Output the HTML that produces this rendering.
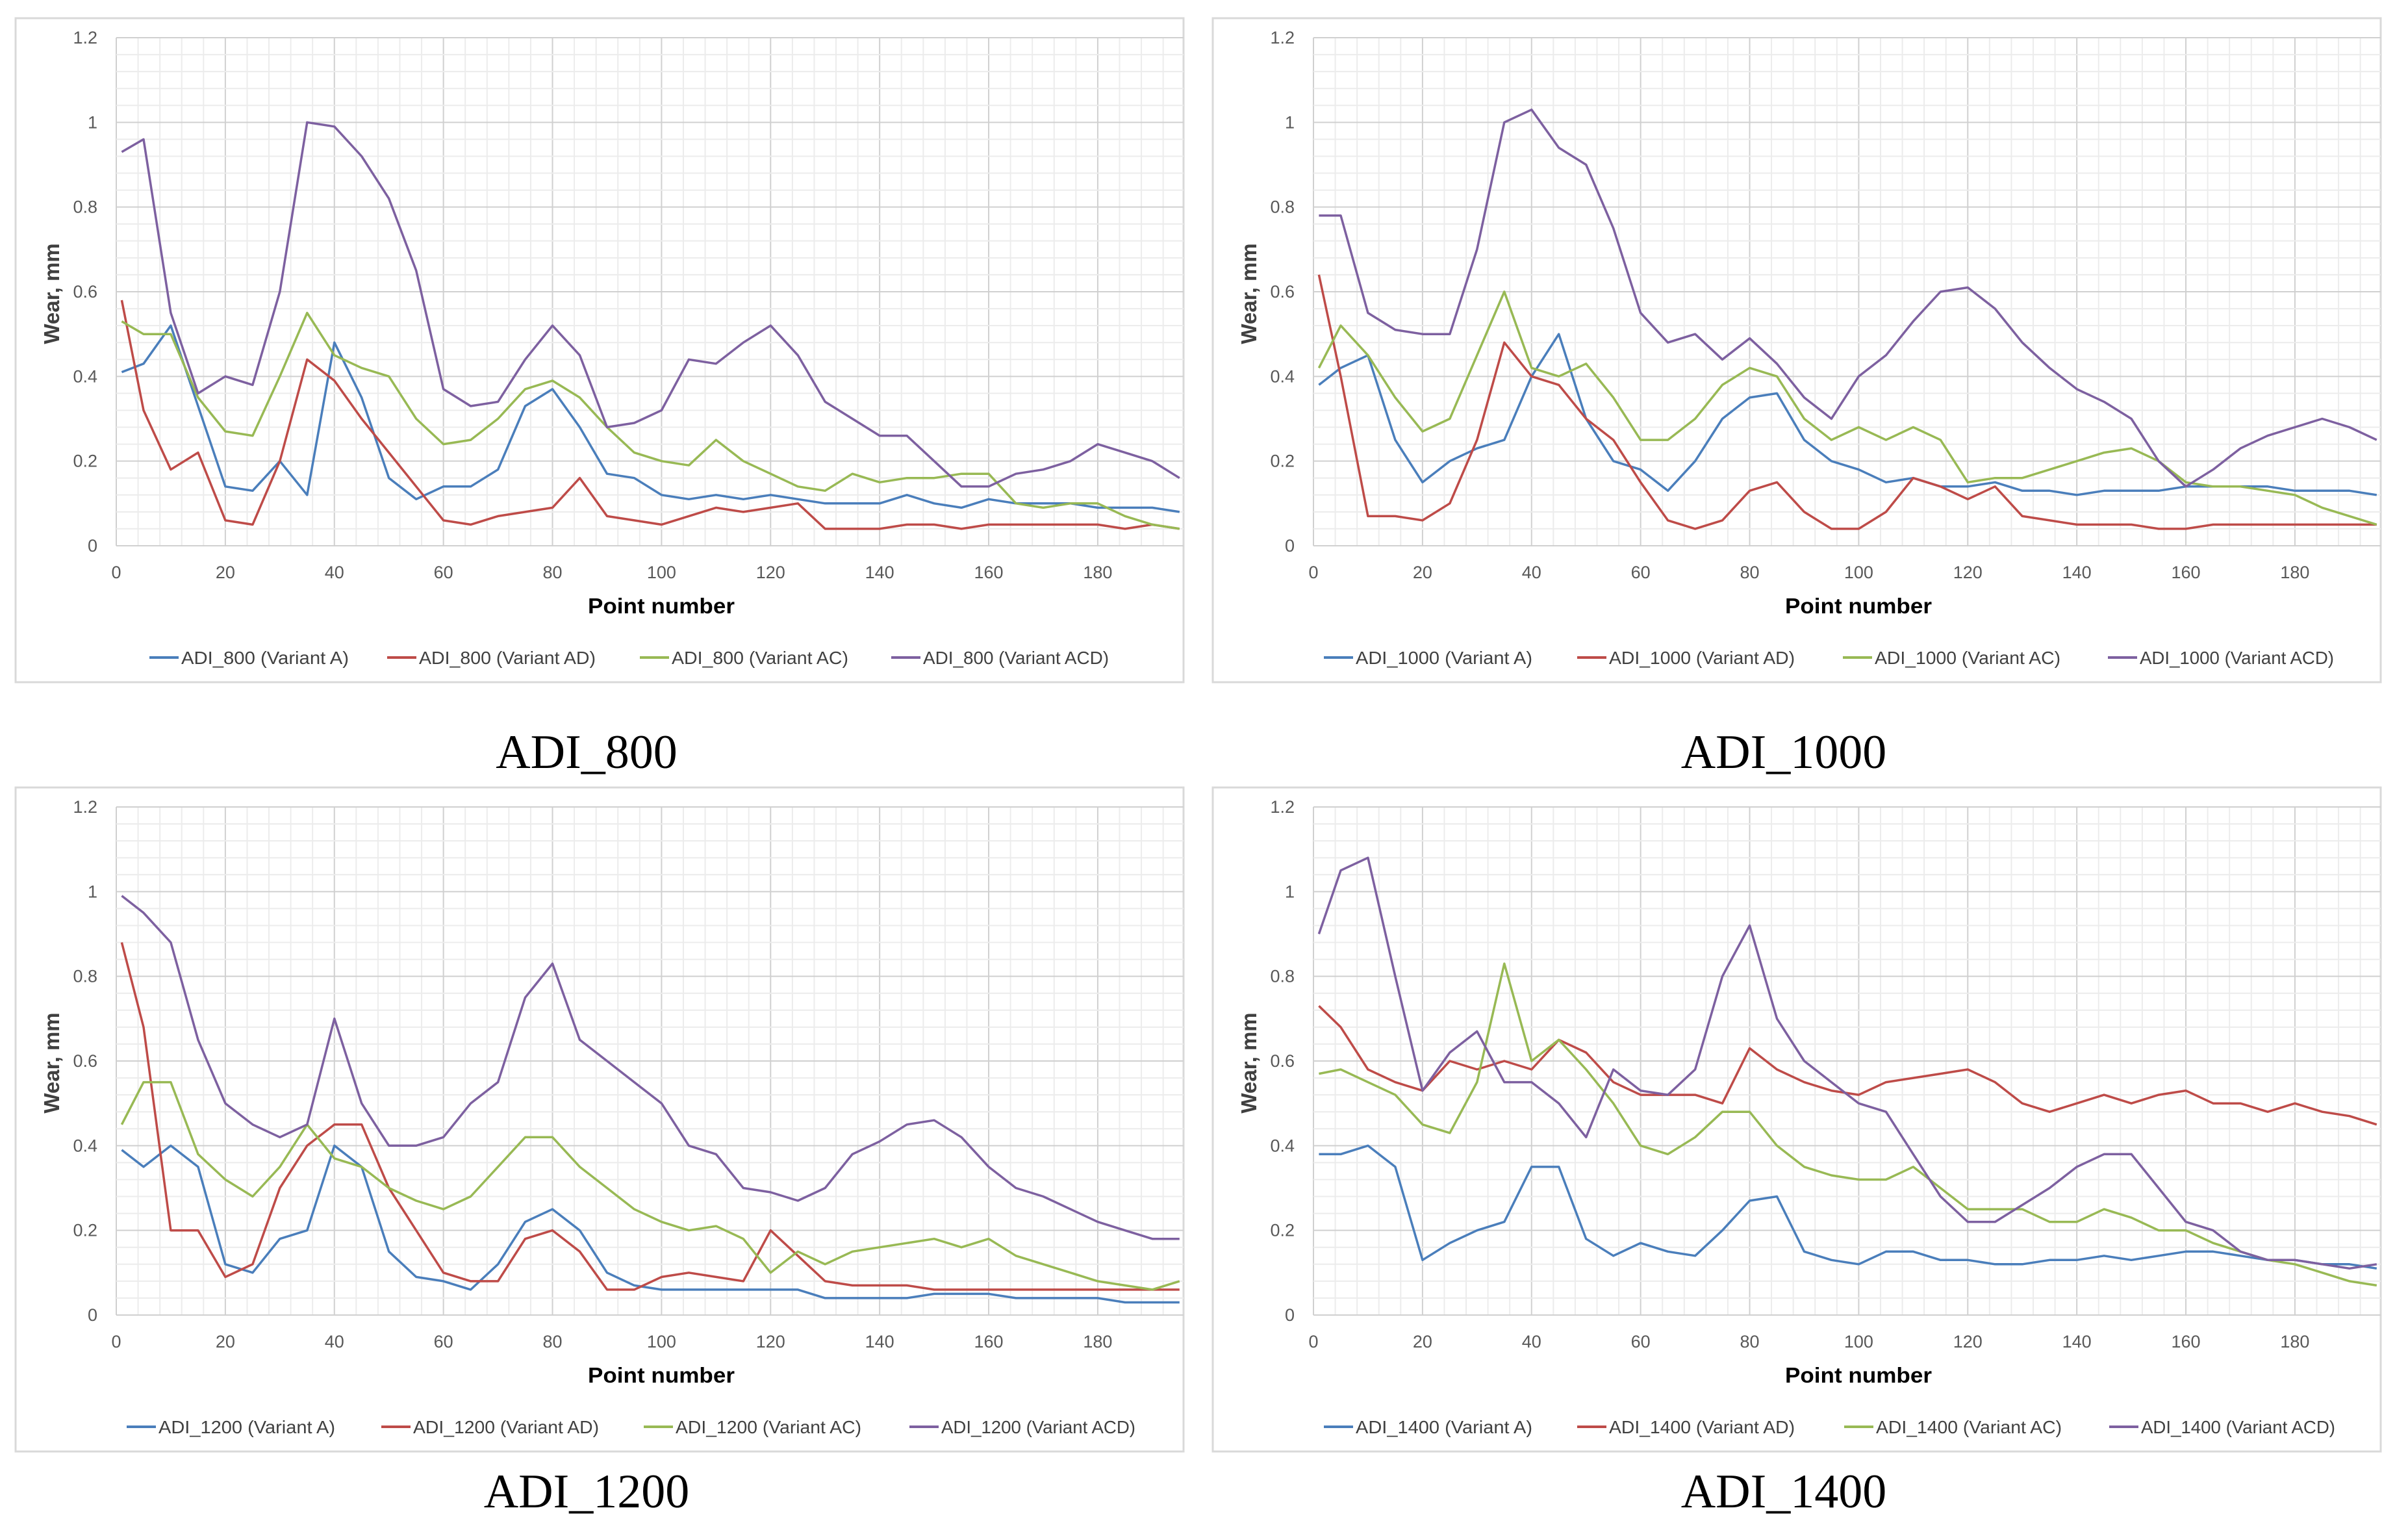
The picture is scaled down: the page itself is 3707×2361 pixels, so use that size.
<!DOCTYPE html>
<html><head><meta charset="utf-8"><style>
html,body{margin:0;padding:0;background:#fff}
svg{display:block}
</style></head><body>
<svg id="fig" xmlns="http://www.w3.org/2000/svg" width="3707" height="2361" viewBox="0 0 3707 2361"></svg>
<script>
const xs=[1,5,10,15,20,25,30,35,40,45,50,55,60,65,70,75,80,85,90,95,100,105,110,115,120,125,130,135,140,145,150,155,160,165,170,175,180,185,190,195];
const yTicks=[0,0.2,0.4,0.6,0.8,1,1.2];
const yTickLabels=["0","0.2","0.4","0.6","0.8","1","1.2"];
const xTicks=[0,20,40,60,80,100,120,140,160,180];
const panelNames=["ADI_800","ADI_1000","ADI_1200","ADI_1400"];
const variantNames=["Variant A","Variant AD","Variant AC","Variant ACD"];

const a800=[0.41,0.43,0.52,0.33,0.14,0.13,0.20,0.12,0.48,0.35,0.16,0.11,0.14,0.14,0.18,0.33,0.37,0.28,0.17,0.16,0.12,0.11,0.12,0.11,0.12,0.11,0.10,0.10,0.10,0.12,0.10,0.09,0.11,0.10,0.10,0.10,0.09,0.09,0.09,0.08];
const ad800=[0.58,0.32,0.18,0.22,0.06,0.05,0.20,0.44,0.39,0.30,0.22,0.14,0.06,0.05,0.07,0.08,0.09,0.16,0.07,0.06,0.05,0.07,0.09,0.08,0.09,0.10,0.04,0.04,0.04,0.05,0.05,0.04,0.05,0.05,0.05,0.05,0.05,0.04,0.05,0.04];
const ac800=[0.53,0.50,0.50,0.35,0.27,0.26,0.40,0.55,0.45,0.42,0.40,0.30,0.24,0.25,0.30,0.37,0.39,0.35,0.28,0.22,0.20,0.19,0.25,0.20,0.17,0.14,0.13,0.17,0.15,0.16,0.16,0.17,0.17,0.10,0.09,0.10,0.10,0.07,0.05,0.04];
const acd800=[0.93,0.96,0.55,0.36,0.40,0.38,0.60,1.00,0.99,0.92,0.82,0.65,0.37,0.33,0.34,0.44,0.52,0.45,0.28,0.29,0.32,0.44,0.43,0.48,0.52,0.45,0.34,0.30,0.26,0.26,0.20,0.14,0.14,0.17,0.18,0.20,0.24,0.22,0.20,0.16];

const a1000=[0.38,0.42,0.45,0.25,0.15,0.20,0.23,0.25,0.40,0.50,0.30,0.20,0.18,0.13,0.20,0.30,0.35,0.36,0.25,0.20,0.18,0.15,0.16,0.14,0.14,0.15,0.13,0.13,0.12,0.13,0.13,0.13,0.14,0.14,0.14,0.14,0.13,0.13,0.13,0.12];
const ad1000=[0.64,0.40,0.07,0.07,0.06,0.10,0.25,0.48,0.40,0.38,0.30,0.25,0.15,0.06,0.04,0.06,0.13,0.15,0.08,0.04,0.04,0.08,0.16,0.14,0.11,0.14,0.07,0.06,0.05,0.05,0.05,0.04,0.04,0.05,0.05,0.05,0.05,0.05,0.05,0.05];
const ac1000=[0.42,0.52,0.45,0.35,0.27,0.30,0.45,0.60,0.42,0.40,0.43,0.35,0.25,0.25,0.30,0.38,0.42,0.40,0.30,0.25,0.28,0.25,0.28,0.25,0.15,0.16,0.16,0.18,0.20,0.22,0.23,0.20,0.15,0.14,0.14,0.13,0.12,0.09,0.07,0.05];
const acd1000=[0.78,0.78,0.55,0.51,0.50,0.50,0.70,1.00,1.03,0.94,0.90,0.75,0.55,0.48,0.50,0.44,0.49,0.43,0.35,0.30,0.40,0.45,0.53,0.60,0.61,0.56,0.48,0.42,0.37,0.34,0.30,0.20,0.14,0.18,0.23,0.26,0.28,0.30,0.28,0.25];

const a1200=[0.39,0.35,0.40,0.35,0.12,0.10,0.18,0.20,0.40,0.35,0.15,0.09,0.08,0.06,0.12,0.22,0.25,0.20,0.10,0.07,0.06,0.06,0.06,0.06,0.06,0.06,0.04,0.04,0.04,0.04,0.05,0.05,0.05,0.04,0.04,0.04,0.04,0.03,0.03,0.03];
const ad1200=[0.88,0.68,0.20,0.20,0.09,0.12,0.30,0.40,0.45,0.45,0.30,0.20,0.10,0.08,0.08,0.18,0.20,0.15,0.06,0.06,0.09,0.10,0.09,0.08,0.20,0.14,0.08,0.07,0.07,0.07,0.06,0.06,0.06,0.06,0.06,0.06,0.06,0.06,0.06,0.06];
const ac1200=[0.45,0.55,0.55,0.38,0.32,0.28,0.35,0.45,0.37,0.35,0.30,0.27,0.25,0.28,0.35,0.42,0.42,0.35,0.30,0.25,0.22,0.20,0.21,0.18,0.10,0.15,0.12,0.15,0.16,0.17,0.18,0.16,0.18,0.14,0.12,0.10,0.08,0.07,0.06,0.08];
const acd1200=[0.99,0.95,0.88,0.65,0.50,0.45,0.42,0.45,0.70,0.50,0.40,0.40,0.42,0.50,0.55,0.75,0.83,0.65,0.60,0.55,0.50,0.40,0.38,0.30,0.29,0.27,0.30,0.38,0.41,0.45,0.46,0.42,0.35,0.30,0.28,0.25,0.22,0.20,0.18,0.18];

const a1400=[0.38,0.38,0.40,0.35,0.13,0.17,0.20,0.22,0.35,0.35,0.18,0.14,0.17,0.15,0.14,0.20,0.27,0.28,0.15,0.13,0.12,0.15,0.15,0.13,0.13,0.12,0.12,0.13,0.13,0.14,0.13,0.14,0.15,0.15,0.14,0.13,0.13,0.12,0.12,0.11];
const ad1400=[0.73,0.68,0.58,0.55,0.53,0.60,0.58,0.60,0.58,0.65,0.62,0.55,0.52,0.52,0.52,0.50,0.63,0.58,0.55,0.53,0.52,0.55,0.56,0.57,0.58,0.55,0.50,0.48,0.50,0.52,0.50,0.52,0.53,0.50,0.50,0.48,0.50,0.48,0.47,0.45];
const ac1400=[0.57,0.58,0.55,0.52,0.45,0.43,0.55,0.83,0.60,0.65,0.58,0.50,0.40,0.38,0.42,0.48,0.48,0.40,0.35,0.33,0.32,0.32,0.35,0.30,0.25,0.25,0.25,0.22,0.22,0.25,0.23,0.20,0.20,0.17,0.15,0.13,0.12,0.10,0.08,0.07];
const acd1400=[0.90,1.05,1.08,0.80,0.53,0.62,0.67,0.55,0.55,0.50,0.42,0.58,0.53,0.52,0.58,0.80,0.92,0.70,0.60,0.55,0.50,0.48,0.38,0.28,0.22,0.22,0.26,0.30,0.35,0.38,0.38,0.30,0.22,0.20,0.15,0.13,0.13,0.12,0.11,0.12];

const colors=["#4a7ebb","#be4b48","#98b954","#7d60a0"];
const NS="http://www.w3.org/2000/svg";
const svg=document.getElementById('fig');
function mk(tag,attrs,parent){const e=document.createElementNS(NS,tag);for(const k in attrs)e.setAttribute(k,attrs[k]);(parent||svg).appendChild(e);return e;}

const panels=[
 {ox:0,oy:0,series:[a800,ad800,ac800,acd800],legendX:[230,596,985,1372],titleY:1182},
 {ox:1843,oy:0,series:[a1000,ad1000,ac1000,acd1000],legendX:[195,585,994,1402],titleY:1182},
 {ox:0,oy:1184,series:[a1200,ad1200,ac1200,acd1200],legendX:[195,587,991,1400],titleY:2320},
 {ox:1843,oy:1184,series:[a1400,ad1400,ac1400,acd1400],legendX:[195,585,996,1404],titleY:2320}
];
const X0=179, XR=1822, XMAX=(1822-179)/8.394, Y0=840, Y1=58;
function fx(v){return X0+v*8.394;}
function fy(v){return Y0-(v/1.2)*(Y0-Y1);}

panels.forEach((p,pi)=>{
 const g=mk('g',{transform:`translate(${p.ox},${p.oy})`});
 
 
 const frame=mk('rect',{x:24,y:28,width:1798,height:1022,fill:'#fff',stroke:'#d9d9d9','stroke-width':3},g);
 
 
 for(let v=0;v<=XMAX;v+=4){const l=mk('line',{x1:fx(v),x2:fx(v),y1:Y1,y2:Y0,stroke:v%20===0?'#d0d0d0':'#ececec','stroke-width':2},g);}
 for(let i=0;i<=30;i++){const v=i*0.04;const l=mk('line',{x1:X0,x2:XR,y1:fy(v),y2:fy(v),stroke:i%5===0?'#d0d0d0':'#ececec','stroke-width':2},g);}
 yTicks.forEach((v,i)=>{const t=mk('text',{x:150,y:fy(v)+9,'text-anchor':'end','font-family':'Liberation Sans, sans-serif','font-size':27,fill:'#595959'},g);t.textContent=yTickLabels[i];});
 xTicks.forEach(v=>{const t=mk('text',{x:fx(v),y:890,'text-anchor':'middle','font-family':'Liberation Sans, sans-serif','font-size':27,fill:'#595959'},g);t.textContent=String(v);});
 const yt=mk('text',{x:0,y:0,transform:'translate(91,452) rotate(-90)','text-anchor':'middle','font-family':'Liberation Sans, sans-serif','font-size':33,'font-weight':'bold',fill:'#404040'},g);
 yt.textContent='Wear, mm';
 
 
 const xt=mk('text',{x:1018,y:944,'text-anchor':'middle','font-family':'Liberation Sans, sans-serif','font-size':33,'font-weight':'bold',fill:'#000',textLength:226,lengthAdjust:'spacingAndGlyphs'},g);
 xt.textContent='Point number';
 
 
 p.series.forEach((s,si)=>{
   const d=s.map((v,i)=>(i?'L':'M')+fx(xs[i]).toFixed(1)+','+fy(v).toFixed(1)).join(' ');
   const path=mk('path',{d:d,fill:'none',stroke:colors[si],'stroke-width':3.5,'stroke-linejoin':'round'},g);
   
   
 });
 p.series.forEach((s,si)=>{
   const lx=p.legendX[si];
   const label=panelNames[pi]+' ('+variantNames[si]+')';
   const lg=mk('g',{},g);
   
   
   mk('line',{x1:lx,x2:lx+45,y1:1012,y2:1012,stroke:colors[si],'stroke-width':4},lg);
   const t=mk('text',{x:lx+49,y:1022,'font-family':'Liberation Sans, sans-serif','font-size':28,fill:'#404040',textLength:(label.length*13.6).toFixed(0),lengthAdjust:'spacingAndGlyphs'},lg);
   t.textContent=label;
 });
 const tt=mk('text',{x:903,y:p.titleY-p.oy,'text-anchor':'middle','font-family':'Liberation Serif, serif','font-size':74,fill:'#000'},g);
 tt.textContent=panelNames[pi];
 
 
});
</script>
</body></html>
